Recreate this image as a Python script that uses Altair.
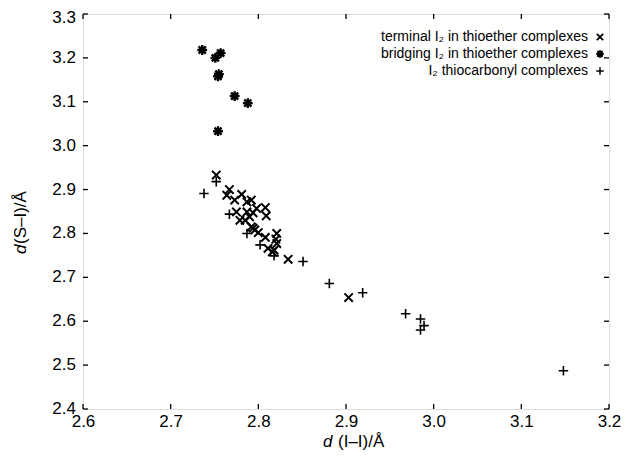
import altair as alt
import pandas as pd

# terminal I2 in thioether complexes (x marks)
term_x = [2.752, 2.767, 2.764, 2.781, 2.773, 2.787, 2.792, 2.798, 2.808, 2.809, 2.775, 2.787, 2.794,
          2.779, 2.785, 2.790, 2.792, 2.796, 2.800, 2.808, 2.821, 2.820, 2.811, 2.816, 2.821, 2.834,
          2.903, 2.794, 2.818]
term_y = [2.933, 2.900, 2.887, 2.889, 2.876, 2.872, 2.876, 2.857, 2.859, 2.840, 2.849, 2.849, 2.847,
          2.830, 2.830, 2.838, 2.815, 2.808, 2.802, 2.791, 2.800, 2.787, 2.766, 2.758, 2.777, 2.741,
          2.654, 2.812, 2.762]

# bridging I2 in thioether complexes (asterisks)
brid_x = [2.736, 2.751, 2.757, 2.755, 2.754, 2.773, 2.788, 2.754]
brid_y = [3.218, 3.200, 3.211, 3.163, 3.158, 3.113, 3.097, 3.033]

# I2 thiocarbonyl complexes (plus marks)
thio_x = [2.752, 2.738, 2.767, 2.787, 2.802, 2.818, 2.851, 2.881, 2.919, 2.968, 2.985, 2.989, 2.985, 3.148]
thio_y = [2.918, 2.891, 2.844, 2.800, 2.774, 2.749, 2.736, 2.686, 2.665, 2.617, 2.605, 2.590, 2.580, 2.487]

series_names = ["terminal I\u2082 in thioether complexes",
                "bridging I\u2082 in thioether complexes",
                "I\u2082 thiocarbonyl complexes"]

x_ticks = [2.6, 2.7, 2.8, 2.9, 3.0, 3.1, 3.2]
y_ticks = [2.4, 2.5, 2.6, 2.7, 2.8, 2.9, 3.0, 3.1, 3.2, 3.3]

W, H = 526, 395
FONT = "Liberation Sans"
TL = 5

X_PATH = "M-1,-1L1,1M-1,1L1,-1"
P_PATH = "M-1,0L1,0M0,-1L0,1"
A_PATH = "M-0.8,-0.8L0.8,0.8M-0.8,0.8L0.8,-0.8M-1.1,0L1.1,0M0,-1.1L0,1.1"

xs = alt.Scale(domain=[2.6, 3.2], nice=False, zero=False)
ys = alt.Scale(domain=[2.4, 3.3], nice=False, zero=False)

df_t = pd.DataFrame({"x": term_x, "y": term_y})
df_b = pd.DataFrame({"x": brid_x, "y": brid_y})
df_c = pd.DataFrame({"x": thio_x, "y": thio_y})
df_xt = pd.DataFrame({"v": x_ticks})
df_yt = pd.DataFrame({"v": y_ticks})
df_yl = df_yt[df_yt["v"] < 3.25]
df_yl_top = df_yt[df_yt["v"] > 3.25]

base_x = alt.X("x:Q", scale=xs,
               axis=alt.Axis(values=x_ticks, format=".1f", ticks=False, domain=False, grid=False,
                             title=None, labelFontSize=17, labelFont=FONT, labelColor="black",
                             labelPadding=4, labelFlush=False))
base_y = alt.Y("y:Q", scale=ys, axis=None)

pts_c = alt.Chart(df_c).mark_point(shape=P_PATH, size=90, filled=False, stroke="black",
                                   strokeWidth=1.6, opacity=1).encode(x=base_x, y=base_y)
pts_t = alt.Chart(df_t).mark_point(shape=X_PATH, size=70, filled=False, stroke="black",
                                   strokeWidth=2, opacity=1).encode(x="x:Q", y="y:Q")
pts_b = alt.Chart(df_b).mark_point(shape=A_PATH, size=80, filled=False, stroke="black",
                                   strokeWidth=2.4, opacity=1).encode(x="x:Q", y="y:Q")

tick_style = dict(color="black", strokeWidth=1.3)
bt = alt.Chart(df_xt).mark_rule(**tick_style).encode(
    x=alt.X("v:Q", scale=xs), y=alt.value(H), y2=alt.value(H - TL))
tt = alt.Chart(df_xt).mark_rule(**tick_style).encode(
    x=alt.X("v:Q", scale=xs), y=alt.value(0), y2=alt.value(TL))
lt = alt.Chart(df_yt).mark_rule(**tick_style).encode(
    y=alt.Y("v:Q", scale=ys), x=alt.value(0), x2=alt.value(TL))
rt = alt.Chart(df_yt).mark_rule(**tick_style).encode(
    y=alt.Y("v:Q", scale=ys), x=alt.value(W), x2=alt.value(W - TL))

# y tick labels (top one nudged down so it stays inside the page)
ylab = alt.Chart(df_yl).mark_text(align="right", baseline="middle", font=FONT, fontSize=17,
                                  color="black", dx=-7).encode(
    y=alt.Y("v:Q", scale=ys), x=alt.value(0), text=alt.Text("v:Q", format=".1f"))
ylab_top = alt.Chart(df_yl_top).mark_text(align="right", baseline="middle", font=FONT, fontSize=17,
                                          color="black", dx=-7, dy=4).encode(
    y=alt.Y("v:Q", scale=ys), x=alt.value(0), text=alt.Text("v:Q", format=".1f"))

# legend (label then symbol at right, inside plot)
legend_layers = []
paths = [X_PATH, A_PATH, P_PATH]
sws = [1.8, 2.2, 1.5]
szs = [40, 45, 55]
for i, name in enumerate(series_names):
    yy = 23 + i * 17
    ldf = pd.DataFrame({"label": [name]})
    legend_layers.append(
        alt.Chart(ldf).mark_text(align="right", baseline="middle", font=FONT, fontSize=14,
                                 color="black").encode(text="label:N", x=alt.value(505), y=alt.value(yy)))
    legend_layers.append(
        alt.Chart(ldf).mark_point(shape=paths[i], size=szs[i], filled=False, stroke="black",
                                  strokeWidth=sws[i], opacity=1).encode(x=alt.value(517), y=alt.value(yy)))

# axis titles with italic d
title_df = pd.DataFrame({"d": ["d"], "xr": ["(I\u2013I)/\u00c5"], "yr": ["(S\u2013I)/\u00c5"]})
xt_d = alt.Chart(title_df).mark_text(align="left", baseline="alphabetic", font=FONT, fontSize=17,
                                     fontStyle="italic", color="black").encode(
    text="d:N", x=alt.value(240), y=alt.value(H + 38))
xt_r = alt.Chart(title_df).mark_text(align="left", baseline="alphabetic", font=FONT, fontSize=17,
                                     color="black").encode(
    text="xr:N", x=alt.value(255), y=alt.value(H + 38))
yt_d = alt.Chart(title_df).mark_text(align="left", baseline="middle", angle=270, font=FONT,
                                     fontSize=17, fontStyle="italic", color="black").encode(
    text="d:N", x=alt.value(-62), y=alt.value(240))
yt_r = alt.Chart(title_df).mark_text(align="left", baseline="middle", angle=270, font=FONT,
                                     fontSize=17, color="black").encode(
    text="yr:N", x=alt.value(-62), y=alt.value(230))

chart = alt.layer(pts_c, pts_t, pts_b, bt, tt, lt, rt, ylab, ylab_top, xt_d, xt_r, yt_d, yt_r,
                  *legend_layers).properties(
    width=W, height=H,
    padding={"left": 75, "top": 6, "right": 15, "bottom": 45},
    autosize=alt.AutoSizeParams(type="none"),
).configure_view(stroke="black", strokeWidth=2).configure(background="white")

chart.save("out.html", embed_options={"renderer": "svg", "actions": False})
